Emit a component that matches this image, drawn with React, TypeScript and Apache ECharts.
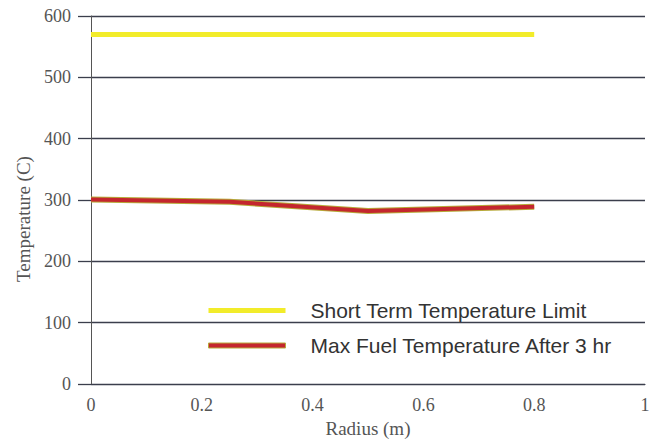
import React, { useEffect, useRef } from "react";
import * as echarts from "echarts";

const limitName = "Short Term Temperature Limit";
const fuelName = "Max Fuel Temperature After 3 hr";
const limitX = [0, 0.8];
const limitY = [570, 570];
const fuelX = [0, 0.25, 0.5, 0.8];
const fuelY = [301, 297, 282, 289];
const yTicks = [0, 100, 200, 300, 400, 500, 600];

export default function App() {
  const ref = useRef<HTMLDivElement>(null);
  useEffect(() => {
    if (!ref.current) return;
    const chart = echarts.init(ref.current, undefined, { renderer: "svg" });
    const grid = "#3b3e4c";
    const serif = "'Liberation Serif', 'DejaVu Serif', serif";
    chart.setOption({
      animation: false,
      backgroundColor: "#ffffff",
      grid: { left: 91, right: 5, top: 16, bottom: 59, containLabel: false, outerBoundsMode: "none" },
      xAxis: {
        type: "value",
        min: 0,
        max: 1,
        interval: 0.2,
        name: "Radius (m)",
        nameLocation: "middle",
        nameGap: 34,
        nameTextStyle: { fontFamily: serif, fontSize: 19, color: "#555" },
        axisLine: { show: true, lineStyle: { color: grid, width: 1.2 } },
        axisTick: { show: false },
        splitLine: { show: false },
        axisLabel: {
          fontFamily: serif,
          fontSize: 18,
          color: "#555",
          margin: 12,
          formatter: (v: number) => (Math.round(v * 10) / 10).toString(),
        },
      },
      yAxis: {
        type: "value",
        min: yTicks[0],
        max: yTicks[yTicks.length - 1],
        interval: 100,
        name: "Temperature (C)",
        nameLocation: "middle",
        nameGap: 57,
        nameTextStyle: { fontFamily: serif, fontSize: 19, color: "#555", padding: [0, 38, 0, 0] },
        axisLine: { show: true, lineStyle: { color: "#555", width: 1 } },
        axisTick: { show: true, length: 13, lineStyle: { color: grid, width: 1.3 } },
        splitLine: { show: true, lineStyle: { color: grid, width: 1.3 } },
        axisLabel: { fontFamily: serif, fontSize: 18, color: "#555", margin: 20 },
      },
      legend: {
        orient: "vertical",
        left: 208,
        top: 300,
        padding: 0,
        itemWidth: 77,
        itemHeight: 5,
        itemGap: 14,
        icon: "rect",
        textStyle: {
          fontFamily: "'Liberation Sans', Arial, sans-serif",
          fontSize: 21,
          color: "#333",
          padding: [0, 0, 0, 20],
        },
        data: [
          { name: limitName },
          { name: fuelName, itemStyle: { borderColor: "#b8a83a", borderWidth: 1 } },
        ],
      },
      series: [
        {
          name: limitName,
          type: "line",
          data: limitX.map((x, i) => [x, limitY[i]]),
          showSymbol: false,
          color: "#f2ec2a",
          lineStyle: { color: "#f2ec2a", width: 5 },
        },
        {
          name: fuelName + "_edge",
          type: "line",
          data: fuelX.map((x, i) => [x, fuelY[i]]),
          showSymbol: false,
          color: "#b7aa3a",
          lineStyle: { color: "#b7aa3a", width: 6 },
        },
        {
          name: fuelName,
          type: "line",
          data: fuelX.map((x, i) => [x, fuelY[i]]),
          showSymbol: false,
          color: "#c4262e",
          lineStyle: { color: "#c4262e", width: 4 },
        },
      ],
    });
    return () => chart.dispose();
  }, []);
  return <div ref={ref} style={{ width: 650, height: 443, position: "absolute", left: 0, top: 0 }} />;
}
